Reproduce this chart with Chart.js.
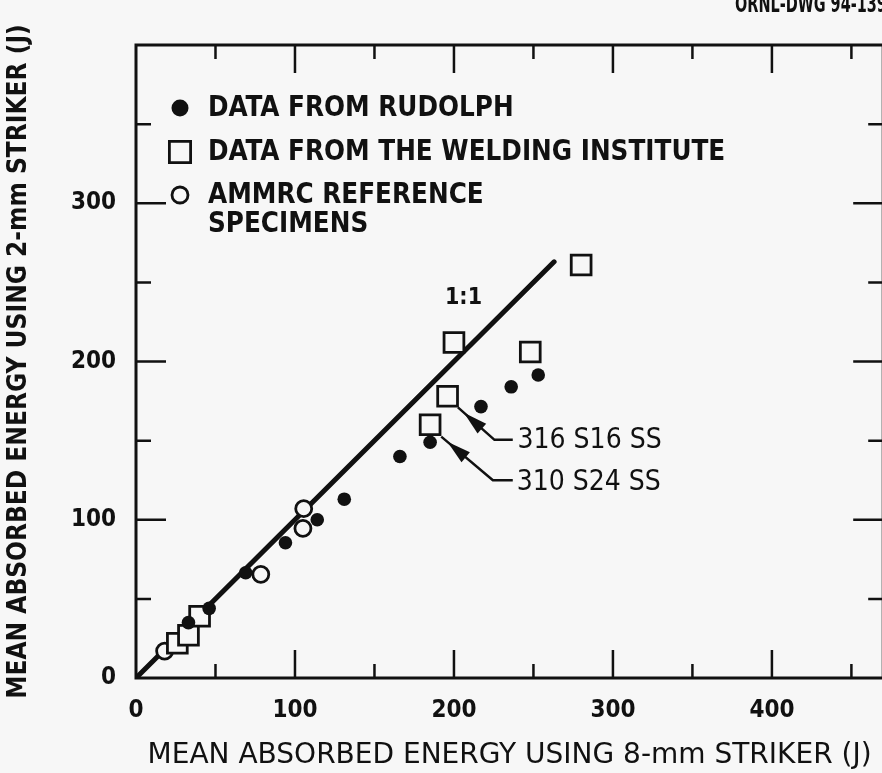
<!DOCTYPE html>
<html lang="en">
<head>
<meta charset="UTF-8">
<title>Mean absorbed energy, 2-mm vs 8-mm striker</title>
<script src="https://cdn.jsdelivr.net/npm/chart.js@4.4.1/dist/chart.umd.min.js"></script>
<style>
  html, body { margin: 0; padding: 0; background: #f7f7f7; overflow: hidden; }
  #wrap { width: 882px; height: 773px; overflow: hidden; }
  canvas { display: block; }
</style>
</head>
<body>
<div id="wrap"><canvas id="chart" width="900" height="773"></canvas></div>
<script>
// energies in J: x = 8-mm striker, y = 2-mm striker
const rudolphX = [33, 46, 69, 94, 114, 131, 166, 185, 217, 236, 253];
const rudolphY = [35, 44, 66.5, 85.5, 100, 113, 140, 149, 171.5, 184, 191.5];
const weldingX = [26, 33, 40, 185, 196, 200, 248, 280];
const weldingY = [22, 27, 39, 160, 178, 212, 206, 261];
const ammrcX = [18, 78.5, 105, 105.5];
const ammrcY = [17, 65.5, 94.5, 107];
const unityX = [0, 263];
const unityY = [0, 263];

const legendLabels = [['DATA FROM RUDOLPH'], ['DATA FROM THE WELDING INSTITUTE'], ['AMMRC REFERENCE', 'SPECIMENS']];
const xTickValues = [50, 100, 150, 200, 250, 300, 350, 400, 450];
const yTickValues = [50, 100, 150, 200, 250, 300, 350];
const xLabelValues = [0, 100, 200, 300, 400];
const yLabelValues = [0, 100, 200, 300];

// callouts: [tip, bend, end] in data units, then label position
const callouts = [
  { text: '316 S16 SS', path: [[202.5, 171], [225.5, 150.5], [237, 150.5]], at: [240, 150] },
  { text: '310 S24 SS', path: [[192, 152.5], [224.5, 125], [237, 125]], at: [239.5, 123.5] }
];
const unityLabel = { text: '1:1', at: [206, 240] };

const ink = '#111';
const paper = '#f7f7f7';
const condensed = '"DejaVu Sans Condensed", "DejaVu Sans"';

const pts = (xs, ys) => xs.map((v, i) => ({ x: v, y: ys[i] }));

const frameTicks = {
  id: 'frameTicks',
  afterDatasetsDraw(chart) {
    const { ctx, chartArea: a, scales: { x, y } } = chart;
    ctx.save();
    ctx.strokeStyle = ink;
    ctx.lineWidth = 3;
    ctx.strokeRect(a.left, a.top, a.right - a.left, a.bottom - a.top);
    ctx.lineWidth = 2.5;
    ctx.beginPath();
    xTickValues.forEach(v => {
      const px = x.getPixelForValue(v);
      const len = v % 100 === 0 ? 28 : 14;
      ctx.moveTo(px, a.bottom); ctx.lineTo(px, a.bottom - len);
      ctx.moveTo(px, a.top); ctx.lineTo(px, a.top + len);
    });
    yTickValues.forEach(v => {
      const py = y.getPixelForValue(v);
      const len = v % 100 === 0 ? 30 : 15;
      ctx.moveTo(a.left, py); ctx.lineTo(a.left + len, py);
      ctx.moveTo(a.right, py); ctx.lineTo(a.right - len, py);
    });
    ctx.stroke();
    ctx.restore();
  }
};

const notes = {
  id: 'notes',
  afterDraw(chart) {
    const { ctx, scales: { x, y } } = chart;
    ctx.save();
    ctx.fillStyle = ink;
    ctx.strokeStyle = ink;

    // legend, markers taken from the datasets
    const rows = [108, 152, 195];
    const sizes = [8.5, 15, 8];
    ctx.font = 'bold 27.5px ' + condensed;
    ctx.textBaseline = 'middle';
    rows.forEach((ry, i) => {
      const ds = chart.data.datasets[i];
      ctx.fillStyle = ds.backgroundColor;
      ctx.lineWidth = ds.borderWidth;
      Chart.helpers.drawPoint(ctx, { pointStyle: ds.pointStyle, radius: sizes[i], borderWidth: ds.borderWidth, rotation: 0 }, 180, ry);
      ctx.fillStyle = ink;
      legendLabels[i].forEach((t, k) => ctx.fillText(t, 208, ry + 1 + k * 29));
    });

    // 1:1 label
    ctx.font = 'bold 23px ' + condensed;
    ctx.textAlign = 'center';
    ctx.fillText(unityLabel.text, x.getPixelForValue(unityLabel.at[0]), y.getPixelForValue(unityLabel.at[1]));

    // callout arrows
    ctx.textAlign = 'left';
    ctx.font = '28px ' + condensed;
    callouts.forEach(c => {
      const p = c.path.map(([vx, vy]) => [x.getPixelForValue(vx), y.getPixelForValue(vy)]);
      ctx.lineWidth = 2.5;
      ctx.lineJoin = 'round';
      ctx.beginPath();
      ctx.moveTo(p[0][0], p[0][1]);
      p.slice(1).forEach(q => ctx.lineTo(q[0], q[1]));
      ctx.stroke();
      const dx = p[1][0] - p[0][0], dy = p[1][1] - p[0][1];
      const d = Math.hypot(dx, dy), ux = dx / d, uy = dy / d;
      const tx = p[0][0] + ux * 8, ty = p[0][1] + uy * 8;
      ctx.beginPath();
      ctx.moveTo(tx, ty);
      ctx.lineTo(tx + ux * 24 - uy * 6.5, ty + uy * 24 + ux * 6.5);
      ctx.lineTo(tx + ux * 24 + uy * 6.5, ty + uy * 24 - ux * 6.5);
      ctx.closePath();
      ctx.fill();
      ctx.fillText(c.text, x.getPixelForValue(c.at[0]), y.getPixelForValue(c.at[1]));
    });

    // drawing number, cropped at the top edge
    ctx.font = 'bold 25px ' + condensed;
    ctx.textBaseline = 'alphabetic';
    ctx.fillText('ORNL-DWG 94-1395', 735, 12, 162);
    ctx.restore();
  }
};

Chart.defaults.font.family = '"DejaVu Sans"';
Chart.defaults.color = ink;

new Chart(document.getElementById('chart'), {
  type: 'scatter',
  data: {
    datasets: [
      {
        label: 'DATA FROM RUDOLPH',
        data: pts(rudolphX, rudolphY),
        pointStyle: 'circle', radius: 6.8, borderWidth: 0,
        backgroundColor: ink, borderColor: ink, order: 1
      },
      {
        label: 'DATA FROM THE WELDING INSTITUTE',
        data: pts(weldingX, weldingY),
        pointStyle: 'rect', radius: 14, borderWidth: 2.8,
        backgroundColor: paper, borderColor: ink, order: 2
      },
      {
        label: 'AMMRC REFERENCE SPECIMENS',
        data: pts(ammrcX, ammrcY),
        pointStyle: 'circle', radius: 8, borderWidth: 2.8,
        backgroundColor: paper, borderColor: ink, order: 3
      },
      {
        label: '1:1',
        data: pts(unityX, unityY),
        showLine: true, pointRadius: 0, borderWidth: 5,
        borderColor: ink, borderCapStyle: 'round', order: 10
      }
    ]
  },
  options: {
    responsive: false,
    animation: false,
    events: [],
    layout: { padding: { top: 45, right: 9, left: 0, bottom: 0 } },
    plugins: { legend: { display: false }, tooltip: { enabled: false } },
    scales: {
      x: {
        type: 'linear', min: 0, max: 470,
        grid: { display: false }, border: { display: false },
        afterFit(s) { s.height = 95; },
        afterBuildTicks(s) { s.ticks = xLabelValues.map(v => ({ value: v })); },
        ticks: { autoSkip: false, padding: 10, maxRotation: 0, font: { size: 24, weight: 'bold', family: condensed } },
        title: {
          display: true, text: 'MEAN ABSORBED ENERGY USING 8-mm STRIKER (J)',
          font: { size: 28 }, padding: { top: 0, bottom: 0 }
        }
      },
      y: {
        type: 'linear', min: 0, max: 400,
        grid: { display: false }, border: { display: false },
        afterFit(s) { s.width = 136; },
        afterBuildTicks(s) { s.ticks = yLabelValues.map(v => ({ value: v })); },
        ticks: { autoSkip: false, padding: 12, font: { size: 24, weight: 'bold', family: condensed } },
        title: {
          display: true, text: 'MEAN ABSORBED ENERGY USING 2-mm STRIKER (J)',
          font: { size: 26, weight: 'bold', family: condensed },
          padding: { top: 4, bottom: 0 }
        }
      }
    }
  },
  plugins: [frameTicks, notes]
});
</script>
</body>
</html>
